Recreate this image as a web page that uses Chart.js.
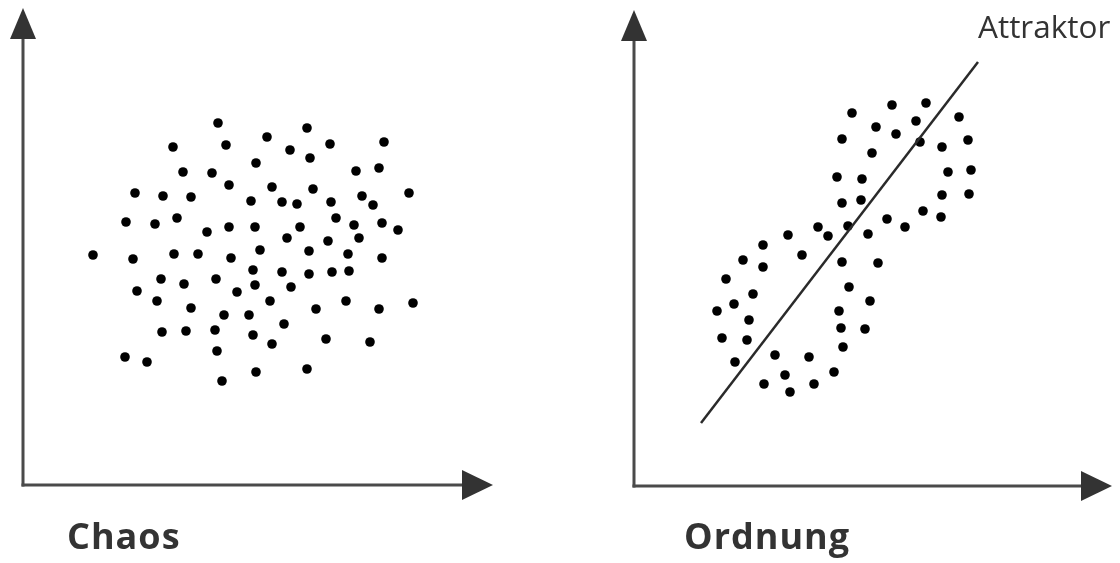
<!DOCTYPE html>
<html>
<head>
<meta charset="utf-8">
<script src="https://cdn.jsdelivr.net/npm/chart.js"></script>
<style>
  html, body { margin: 0; padding: 0; background: #fff; width: 1120px; height: 563px; overflow: hidden; }
  canvas { position: absolute; top: 0; }
  #c1 { left: 0; }
  #c2 { left: 560px; }
  .lbl { position: absolute; font-family: "Open Sans", sans-serif; line-height: 1; white-space: nowrap; color: #333; }
  #chaos { left: 67px; top: 518px; font-size: 36px; font-weight: bold; letter-spacing: 1px; }
  #ordnung { left: 684px; top: 518px; font-size: 36px; font-weight: bold; letter-spacing: 1px; }
  #attr { left: 978px; top: 10px; font-size: 31.5px; font-weight: normal; color: #333; }
</style>
</head>
<body>
<canvas id="c1" width="560" height="563"></canvas>
<canvas id="c2" width="560" height="563"></canvas>
<div class="lbl" id="chaos">Chaos</div>
<div class="lbl" id="ordnung">Ordnung</div>
<div class="lbl" id="attr">Attraktor</div>
<script>
// ---- Data (arbitrary units along each axis) ----
const chaosX = [19.5,15.0,20.3,23.3,16.0,18.9,20.6,11.2,14.0,16.8,22.8,10.3,13.2,15.4,18.4,20.6,23.2,7.0,11.0,15.1,17.5,20.8,23.7,
  28.4,24.4,26.7,30.7,36.1,28.7,33.3,35.6,24.9,29.0,38.6,25.9,27.4,30.8,33.9,35.0,31.3,27.7,33.1,35.9,37.5,26.4,30.5,33.6,28.6,32.5,35.9,
  23.0,13.8,16.1,19.3,23.2,11.4,21.4,13.4,16.8,20.1,22.6,13.9,16.3,19.2,23.0,19.4,10.2,12.4,23.3,19.9,
  25.9,28.6,30.9,32.6,26.8,24.7,32.3,29.3,35.6,39.0,26.1,24.9,30.3,34.7,28.4];
const chaosY = [36.2,33.8,34.0,32.2,31.3,31.2,30.0,29.2,28.9,28.8,28.4,26.3,26.1,26.7,25.3,25.8,25.8,23.0,22.6,23.1,23.1,22.7,23.5,
  35.7,34.8,33.5,34.1,34.3,32.7,31.4,31.7,29.8,29.6,29.2,28.3,28.1,28.3,28.9,28.0,26.7,25.8,26.0,26.2,25.5,24.7,24.4,24.7,23.4,23.1,22.7,
  21.5,20.6,20.1,20.6,20.0,19.4,19.3,18.4,17.7,17.0,17.0,15.3,15.4,15.5,15.0,13.4,12.8,12.3,11.3,10.4,
  21.3,21.1,21.3,21.4,19.8,18.4,18.4,17.6,17.6,18.2,16.1,14.1,14.6,14.3,11.6];

const ordnungX = [21.8,25.8,29.2,32.5,28.2,24.2,26.2,20.8,28.6,33.4,30.8,23.8,20.3,22.8,31.4,33.7,20.8,22.7,30.8,33.5,
  25.3,28.9,30.7,27.1,18.4,21.4,15.4,19.4,23.4,12.9,10.9,12.9,16.8,20.8,24.4,9.2,11.9,10.0,8.3,21.5,23.6,20.5,
  11.5,20.7,23.1,8.8,11.3,20.9,10.1,14.1,17.5,20.0,15.1,13.0,18.0,15.6];
const ordnungY = [37.3,38.1,38.3,36.9,36.5,35.9,35.2,34.7,34.4,34.6,33.9,33.3,30.9,30.7,31.4,31.6,28.3,28.6,29.1,29.2,
  26.7,27.5,26.9,25.9,25.9,26.0,25.1,25.0,25.2,24.1,22.6,21.9,23.1,22.4,22.3,20.7,19.2,18.2,17.5,19.9,18.5,17.5,
  16.6,15.8,15.7,14.8,14.6,13.9,12.4,13.1,12.9,11.4,11.1,10.2,10.2,9.4];

const attraktorX = [6.7, 34.4];
const attraktorY = [6.3, 42.4];

const toPts = (xs, ys) => xs.map((x, i) => ({ x: x, y: ys[i] }));

const axesPlugin = {
  id: 'arrowAxes',
  beforeDatasetsDraw(chart) {
    const { left, right, top, bottom } = chart.chartArea;
    const ctx = chart.ctx;
    ctx.save();
    ctx.strokeStyle = '#4a4a4a';
    ctx.fillStyle = '#333';
    ctx.lineWidth = 3;
    ctx.lineCap = 'butt';
    // y axis
    ctx.beginPath();
    ctx.moveTo(left, bottom + 1.5);
    ctx.lineTo(left, top + 30);
    ctx.stroke();
    ctx.beginPath();
    ctx.moveTo(left, top);
    ctx.lineTo(left - 13, top + 31);
    ctx.lineTo(left + 13, top + 31);
    ctx.closePath();
    ctx.fill();
    // x axis
    ctx.beginPath();
    ctx.moveTo(left - 1.5, bottom);
    ctx.lineTo(right - 30, bottom);
    ctx.stroke();
    ctx.beginPath();
    ctx.moveTo(right, bottom);
    ctx.lineTo(right - 31, bottom - 15);
    ctx.lineTo(right - 31, bottom + 15);
    ctx.closePath();
    ctx.fill();
    ctx.restore();
  }
};

function makeChart(id, datasets, xmax, ymax, padding) {
  return new Chart(document.getElementById(id), {
    type: 'scatter',
    data: { datasets: datasets },
    options: {
      responsive: false,
      animation: false,
      devicePixelRatio: 1,
      layout: { padding: padding },
      plugins: { legend: { display: false }, tooltip: { enabled: false } },
      scales: {
        x: { type: 'linear', min: 0, max: xmax, display: false },
        y: { type: 'linear', min: 0, max: ymax, display: false }
      },
      clip: false
    },
    plugins: [axesPlugin]
  });
}

const dotStyle = { pointRadius: 4.8, pointBackgroundColor: '#000', pointBorderWidth: 0, showLine: false };

makeChart('c1', [
  Object.assign({ label: 'Chaos', data: toPts(chaosX, chaosY) }, dotStyle)
], 47.0, 47.7, { left: 23, right: 67, top: 8, bottom: 78 });

makeChart('c2', [
  { label: 'Attraktor', type: 'line', data: toPts(attraktorX, attraktorY), borderColor: '#2a2a2a', borderWidth: 2.5, pointRadius: 0, fill: false, showLine: true },
  Object.assign({ label: 'Ordnung', data: toPts(ordnungX, ordnungY) }, dotStyle)
], 47.8, 47.6, { left: 74, right: 8, top: 10, bottom: 77 });
</script>
</body>
</html>
